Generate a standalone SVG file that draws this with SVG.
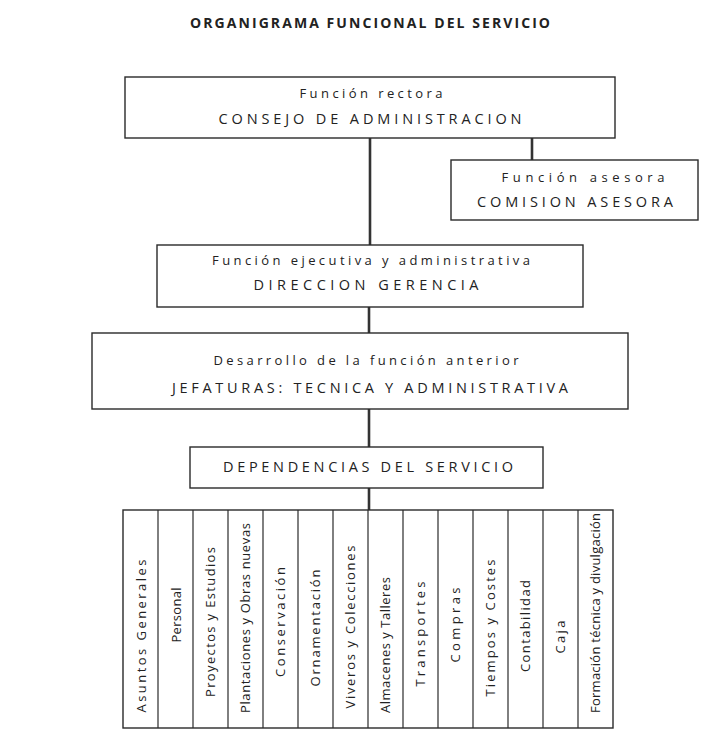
<svg xmlns="http://www.w3.org/2000/svg" width="718" height="744" viewBox="0 0 718 744">
<style>
.box{fill:#fff;stroke:#2a2a2a;stroke-width:1.4}
.conn{stroke:#333;stroke-width:2.6;fill:none}
.t{font-family:"Open Sans","Lato","DejaVu Sans",sans-serif;fill:#222;text-anchor:middle}
.sub{font-size:13px}
.main{font-size:14.5px}
.title{font-family:"Open Sans","DejaVu Sans",sans-serif;font-weight:bold;font-size:14px;fill:#222;text-anchor:middle}
.col{font-family:"Open Sans","Lato","DejaVu Sans",sans-serif;font-size:13px;fill:#222;text-anchor:middle}
</style>
<rect width="718" height="744" fill="#fff"/>
<text class="title" x="370" y="28" textLength="360" lengthAdjust="spacing">ORGANIGRAMA FUNCIONAL DEL SERVICIO</text>

<g id="connectors">
<line class="conn" x1="370" y1="138" x2="370" y2="245"/>
<line class="conn" x1="532" y1="138" x2="532" y2="160"/>
<line class="conn" x1="369" y1="307" x2="369" y2="333"/>
<line class="conn" x1="369" y1="409" x2="369" y2="447"/>
<line class="conn" x1="369" y1="488" x2="369" y2="510"/>
</g>

<g id="consejo">
<rect class="box" x="125" y="77" width="490" height="61"/>
<text class="t sub" x="371" y="98" textLength="143" lengthAdjust="spacing">Función rectora</text>
<text class="t main" x="370" y="124" textLength="303" lengthAdjust="spacing">CONSEJO DE ADMINISTRACION</text>
</g>

<g id="asesora">
<rect class="box" x="451" y="160" width="247" height="60"/>
<text class="t sub" x="583" y="182" textLength="163" lengthAdjust="spacing">Función asesora</text>
<text class="t main" x="575" y="207" textLength="196" lengthAdjust="spacing">COMISION ASESORA</text>
</g>

<g id="direccion">
<rect class="box" x="157" y="245" width="426" height="62"/>
<text class="t sub" x="371" y="265" textLength="318" lengthAdjust="spacing">Función ejecutiva y administrativa</text>
<text class="t main" x="366" y="290" textLength="225" lengthAdjust="spacing">DIRECCION GERENCIA</text>
</g>

<g id="jefaturas">
<rect class="box" x="92" y="333" width="536" height="76"/>
<text class="t sub" x="366" y="365" textLength="305" lengthAdjust="spacing">Desarrollo de la función anterior</text>
<text class="t main" x="370" y="393" textLength="396" lengthAdjust="spacing">JEFATURAS: TECNICA Y ADMINISTRATIVA</text>
</g>

<g id="dependencias">
<rect class="box" x="190" y="447" width="353" height="41"/>
<text class="t main" x="368" y="472" textLength="290" lengthAdjust="spacing">DEPENDENCIAS DEL SERVICIO</text>
</g>

<g id="columnas">
<rect class="box" x="123" y="510" width="490" height="218"/>
<g stroke="#2a2a2a" stroke-width="1.2">
<line x1="158" y1="510" x2="158" y2="728"/>
<line x1="193" y1="510" x2="193" y2="728"/>
<line x1="228" y1="510" x2="228" y2="728"/>
<line x1="263" y1="510" x2="263" y2="728"/>
<line x1="298" y1="510" x2="298" y2="728"/>
<line x1="333" y1="510" x2="333" y2="728"/>
<line x1="368" y1="510" x2="368" y2="728"/>
<line x1="403" y1="510" x2="403" y2="728"/>
<line x1="438" y1="510" x2="438" y2="728"/>
<line x1="473" y1="510" x2="473" y2="728"/>
<line x1="508" y1="510" x2="508" y2="728"/>
<line x1="543" y1="510" x2="543" y2="728"/>
<line x1="578" y1="510" x2="578" y2="728"/>
</g>
</g>

<g id="col1"><text class="col" transform="translate(146,636) rotate(-90)" textLength="153" lengthAdjust="spacing">Asuntos Generales</text></g>
<g id="col2"><text class="col" transform="translate(181,615) rotate(-90)" textLength="55" lengthAdjust="spacing">Personal</text></g>
<g id="col3"><text class="col" transform="translate(215,622) rotate(-90)" textLength="150" lengthAdjust="spacing">Proyectos y Estudios</text></g>
<g id="col4"><text class="col" transform="translate(250,618) rotate(-90)" textLength="190" lengthAdjust="spacing">Plantaciones y Obras nuevas</text></g>
<g id="col5"><text class="col" transform="translate(285,622) rotate(-90)" textLength="110" lengthAdjust="spacing">Conservación</text></g>
<g id="col6"><text class="col" transform="translate(320,628) rotate(-90)" textLength="117" lengthAdjust="spacing">Ornamentación</text></g>
<g id="col7"><text class="col" transform="translate(355,627) rotate(-90)" textLength="163" lengthAdjust="spacing">Viveros y Colecciones</text></g>
<g id="col8"><text class="col" transform="translate(390,645) rotate(-90)" textLength="136" lengthAdjust="spacing">Almacenes y Talleres</text></g>
<g id="col9"><text class="col" transform="translate(425,634) rotate(-90)" textLength="105" lengthAdjust="spacing">Transportes</text></g>
<g id="col10"><text class="col" transform="translate(460,625) rotate(-90)" textLength="75" lengthAdjust="spacing">Compras</text></g>
<g id="col11"><text class="col" transform="translate(495,628) rotate(-90)" textLength="137" lengthAdjust="spacing">Tiempos y Costes</text></g>
<g id="col12"><text class="col" transform="translate(530,626) rotate(-90)" textLength="92" lengthAdjust="spacing">Contabilidad</text></g>
<g id="col13"><text class="col" transform="translate(565,637) rotate(-90)" textLength="33" lengthAdjust="spacing">Caja</text></g>
<g id="col14"><text class="col" transform="translate(600,613) rotate(-90)" textLength="200" lengthAdjust="spacing">Formación técnica y divulgación</text></g>
</svg>
